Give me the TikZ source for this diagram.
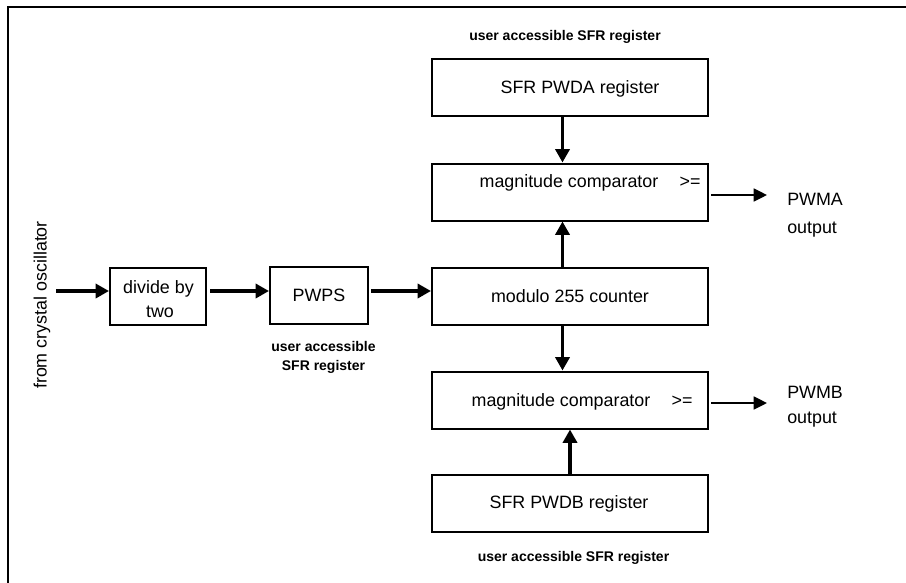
\documentclass[tikz,border=0pt]{standalone}
\usepackage{fontspec}
\setmainfont{Liberation Sans}
\usetikzlibrary{arrows.meta}
\begin{document}
\begin{tikzpicture}[x=0.75pt,y=-0.75pt,
  blk/.style={draw, line width=1.5pt, minimum width=#1*0.75pt, minimum height=57*0.75pt, inner sep=0pt},
  txt/.style={font=\fontsize{13.4}{16}\selectfont, inner sep=0pt, anchor=base},
  note/.style={font=\bfseries\fontsize{10.5}{12.5}\selectfont, inner sep=0pt, anchor=base},
  feed/.style={line width=2.8pt, -{Triangle[length=10pt,width=10.5pt]}},
  outp/.style={line width=1.2pt, -{Triangle[length=10pt,width=9.75pt]}}
]
\useasboundingbox (0,0) rectangle (906,582);
% page frame (left and top edges)
\draw[line width=1.6pt] (8,600) -- (8,7) -- (920,7);

% blocks
\node[blk=96]  (div)  at (158,296)   {};
\node[blk=98]  (pwps) at (319,295.5) {};
\node[blk=276] (cnt)  at (570,296)   {};
\node[blk=276] (cmpA) at (570,192)   {};
\node[blk=276] (cmpB) at (570,400)   {};
\node[blk=276] (regA) at (570,87.5)  {};
\node[blk=276] (regB) at (570,503.5) {};

% block texts
\node[txt] (divT1) at (158.5,293) {divide by};
\node[txt] (divT2) at (160,317) {two};
\node[txt] (pwpsT) at (319,301) {PWPS};
\node[txt] (cntT)  at (570,302) {modulo 255 counter};
\node[txt] (cmpAT) at (569,187) {magnitude comparator};
\node[txt] (cmpAG) at (690,187) {>=};
\node[txt] (cmpBT) at (561,406) {magnitude comparator};
\node[txt] (cmpBG) at (682,406) {>=};
\node[txt] (regAT) at (580,93) {SFR PWDA register};
\node[txt] (regBT) at (569,508.5) {SFR PWDB register};

% notes
\node[note] (pwpsN1) at (323.5,351.5) {user accessible};
\node[note] (pwpsN2) at (323.5,370.5) {SFR register};
\node[note] (regAN)  at (565,40)    {user accessible SFR register};
\node[note] (regBN)  at (573.5,561) {user accessible SFR register};

% inputs and outputs
\node[txt, rotate=90, anchor=center] (osc) at (42,305) {from crystal oscillator};
\node[txt, anchor=base west] (pwmA1) at (787,205) {PWMA};
\node[txt, anchor=base west] (pwmA2) at (787,233) {output};
\node[txt, anchor=base west] (pwmB1) at (787,398) {PWMB};
\node[txt, anchor=base west] (pwmB2) at (787,423) {output};

% connectors
\coordinate (src)  at (56,291);
\coordinate (colA) at (562.5,0);
\coordinate (outA) at (767,195);
\coordinate (outB) at (767,403);
\draw[feed] (src) -- (div.west |- src);
\draw[feed, shorten <=2.25pt] (div.east |- src) -- (pwps.west |- src);
\draw[feed, shorten <=1.5pt] (pwps.east |- src) -- (cnt.west |- src);
\draw[feed] (regA.south -| colA) -- (cmpA.north -| colA);
\draw[feed] (cnt.north -| colA) -- (cmpA.south -| colA);
\draw[feed] (cnt.south -| colA) -- (cmpB.north -| colA);
\draw[feed] (regB.north) -- (cmpB.south);
\draw[outp, shorten <=1.5pt] (cmpA.east |- outA) -- (outA);
\draw[outp, shorten <=1.5pt] (cmpB.east |- outB) -- (outB);
\end{tikzpicture}
\end{document}
